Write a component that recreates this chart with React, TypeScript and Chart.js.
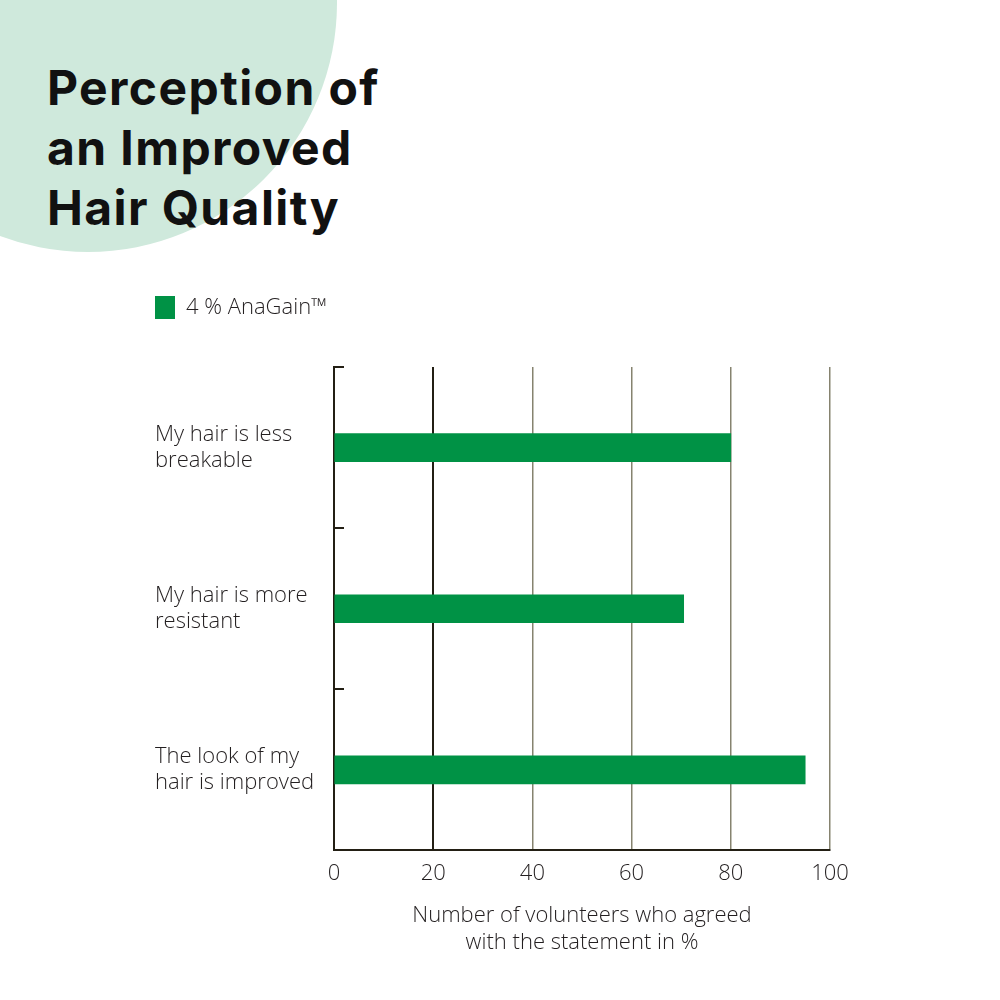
import { useEffect, useRef } from "react";
import { Chart, registerables } from "chart.js";

Chart.register(...registerables);

const statements = [
  ["My hair is less", "breakable"],
  ["My hair is more", "resistant"],
  ["The look of my", "hair is improved"],
];
const agreedPercent = [80, 70.5, 95];
const seriesName = "4 % AnaGain™";
const axisTitle = ["Number of volunteers who agreed", "with the statement in %"];

const GREEN = "#009245";
const DARK = "#231f14";
const GREY = "#86836f";
const TEXT = "#231f20";
const LABEL_FONT = "'Open Sans', sans-serif";

const HairChart = () => {
  const canvasRef = useRef<HTMLCanvasElement | null>(null);
  const chartRef = useRef<Chart | null>(null);

  useEffect(() => {
    if (!canvasRef.current) return;
    if (chartRef.current) chartRef.current.destroy();

    chartRef.current = new Chart(canvasRef.current, {
      type: "bar",
      data: {
        labels: statements,
        datasets: [
          {
            label: seriesName,
            data: agreedPercent,
            backgroundColor: GREEN,
            borderWidth: 0,
            barThickness: 28,
          },
        ],
      },
      options: {
        indexAxis: "y",
        animation: false,
        responsive: true,
        maintainAspectRatio: false,
        layout: {
          padding: { left: 155, top: 296, right: 170, bottom: 40 },
        },
        plugins: {
          legend: {
            position: "top",
            align: "start",
            labels: {
              boxWidth: 20,
              boxHeight: 23,
              padding: 0,
              color: TEXT,
              font: { family: LABEL_FONT, size: 22, weight: "300" },
            },
          },
          tooltip: { enabled: false },
        },
        scales: {
          x: {
            min: 0,
            max: 100,
            ticks: {
              stepSize: 20,
              padding: 10,
              color: TEXT,
              font: { family: LABEL_FONT, size: 22, weight: "300", lineHeight: 1.2 },
            },
            grid: {
              drawTicks: false,
              color: (ctx) => (ctx.tick && ctx.tick.value === 20 ? DARK : GREY),
              lineWidth: (ctx) => (ctx.tick && ctx.tick.value === 20 ? 2 : 1.5),
            },
            border: { color: DARK, width: 2 },
            title: {
              display: true,
              text: axisTitle,
              color: TEXT,
              font: { family: LABEL_FONT, size: 22, weight: "300", lineHeight: 1.23 },
              padding: { top: 5, bottom: 4 },
            },
          },
          y: {
            ticks: {
              crossAlign: "far",
              color: TEXT,
              font: { family: LABEL_FONT, size: 22, weight: "300", lineHeight: 1.18 },
            },
            grid: {
              drawOnChartArea: false,
              drawTicks: true,
              tickLength: -10,
              color: DARK,
              lineWidth: 2,
            },
            border: { color: DARK, width: 2 },
            afterFit: (scale) => {
              scale.width = 179;
            },
          },
        },
      },
      plugins: [
        {
          id: "legendGap",
          beforeInit(chart: any) {
            const fit = chart.legend.fit;
            chart.legend.fit = function () {
              fit.bind(chart.legend)();
              this.height = 71;
            };
          },
        },
      ],
    });

    return () => {
      if (chartRef.current) chartRef.current.destroy();
    };
  }, []);

  return (
    <div
      style={{
        position: "absolute",
        left: 0,
        top: 0,
        width: 1000,
        height: 1000,
        background: "#ffffff",
        overflow: "hidden",
      }}
    >
      <div
        style={{
          position: "absolute",
          left: 88 - 249,
          top: 3 - 249,
          width: 498,
          height: 498,
          borderRadius: "50%",
          background: "#cfe9dc",
        }}
      />
      <h1
        style={{
          position: "absolute",
          left: 47,
          top: 58,
          margin: 0,
          fontFamily: "Inter, sans-serif",
          fontWeight: 700,
          fontSize: 48,
          lineHeight: "60px",
          letterSpacing: "1.4px",
          color: "#111111",
        }}
      >
        Perception of
        <br />
        an Improved
        <br />
        Hair Quality
      </h1>
      <div style={{ position: "absolute", left: 0, top: 0, width: 1000, height: 1000 }}>
        <canvas ref={canvasRef}></canvas>
      </div>
    </div>
  );
};

export default function App() {
  return <HairChart />;
}
